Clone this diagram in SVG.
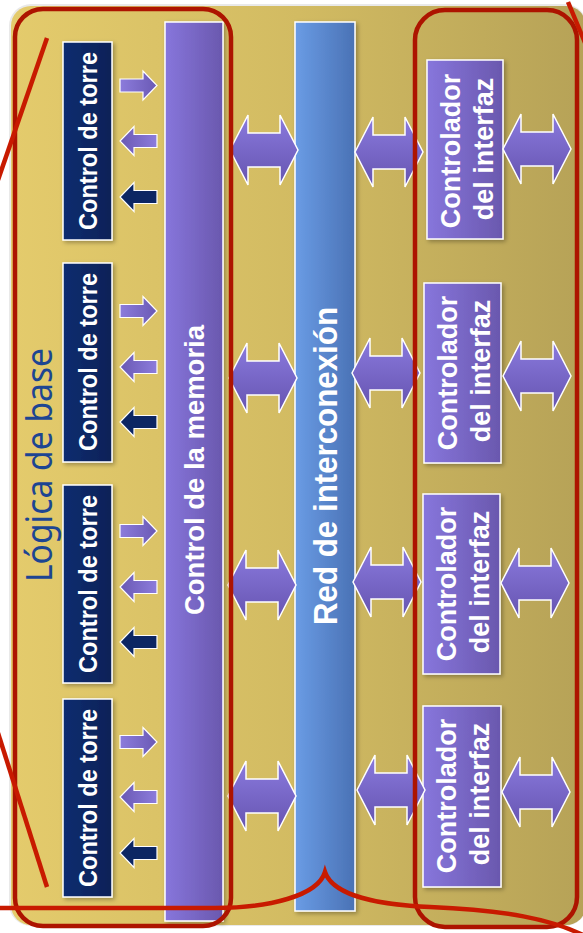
<svg xmlns="http://www.w3.org/2000/svg" width="583" height="933" viewBox="0 0 583 933">
<defs>
  <linearGradient id="bg" x1="0" y1="0" x2="1" y2="0">
    <stop offset="0" stop-color="#e4cb6c"/>
    <stop offset="0.5" stop-color="#d2bb62"/>
    <stop offset="1" stop-color="#b6a257"/>
  </linearGradient>
  <linearGradient id="navy" x1="0" y1="0" x2="1" y2="0">
    <stop offset="0" stop-color="#0f2d70"/>
    <stop offset="1" stop-color="#0a2157"/>
  </linearGradient>
  <linearGradient id="purp" x1="0" y1="0" x2="1" y2="0">
    <stop offset="0" stop-color="#8776dc"/>
    <stop offset="1" stop-color="#6a58ae"/>
  </linearGradient>
  <linearGradient id="blue" x1="0" y1="0" x2="1" y2="0">
    <stop offset="0" stop-color="#6a9ce5"/>
    <stop offset="1" stop-color="#4a72b5"/>
  </linearGradient>
  <linearGradient id="arrV" x1="0" y1="0" x2="0" y2="1">
    <stop offset="0" stop-color="#8a7ade"/>
    <stop offset="1" stop-color="#6654b0"/>
  </linearGradient>
  <linearGradient id="arrH" x1="0" y1="0" x2="1" y2="0">
    <stop offset="0" stop-color="#8c7cdc"/>
    <stop offset="1" stop-color="#6a59b4"/>
  </linearGradient>
  <filter id="sh" x="-20%" y="-20%" width="140%" height="140%">
    <feDropShadow dx="2" dy="2" stdDeviation="2" flood-color="#000" flood-opacity="0.3"/>
  </filter>
  <path id="sArr" d="M-18.5,-6.5 H4.5 V-14.5 L18.5,0 L4.5,14.5 V6.5 H-18.5 Z"/>
  <path id="bArr" d="M-34,0 L-16,-35 V-17 H16 V-35 L34,0 L16,35 V17 H-16 V35 Z"/>
</defs>
<style>
  .tower{fill:url(#navy);stroke:#fff;stroke-width:1.5;filter:url(#sh)}
  .iface{fill:url(#purp);stroke:#fff;stroke-width:1.5;filter:url(#sh)}
  .wt{fill:#fff;font-family:"Liberation Sans",Arial,sans-serif;font-weight:bold;text-anchor:middle}
  .sa{fill:url(#arrH);stroke:#fff;stroke-width:1.2}
  .sn{fill:#0c2663;stroke:#fff;stroke-width:1.2}
  .ba{fill:url(#arrV);stroke:#fff;stroke-width:1.5}
  .red{fill:none;stroke:#ad1400;stroke-width:4.5}
  .redl{fill:none;stroke:#c81a00;stroke-width:4.5}
</style>

<rect x="0" y="0" width="583" height="933" fill="#ffffff"/>
<g id="background">
  <rect x="9" y="4" width="578" height="922" rx="22" fill="#e9e9e9"/>
  <rect x="11" y="6" width="575" height="919" rx="20" fill="url(#bg)"/>
  <text transform="translate(52,465) rotate(-90)" text-anchor="middle" font-family="'Noto Sans','Liberation Sans',sans-serif" font-size="36" fill="#1d4592" textLength="234" lengthAdjust="spacingAndGlyphs">Lógica de base</text>
</g>

<g id="memoria">
  <rect x="165" y="22" width="58" height="899" fill="url(#purp)" stroke="#fff" stroke-width="1.5" filter="url(#sh)"/>
  <text class="wt" transform="translate(204,470) rotate(-90)" font-size="28.5" textLength="290" lengthAdjust="spacingAndGlyphs">Control de la memoria</text>
</g>
<g id="interconexion">
  <rect x="295" y="22" width="60" height="889" fill="url(#blue)" stroke="#fff" stroke-width="1.5" filter="url(#sh)"/>
  <text class="wt" transform="translate(337,466) rotate(-90)" font-size="33.5" textLength="318" lengthAdjust="spacingAndGlyphs">Red de interconexión</text>
</g>

<g id="torre1">
  <rect class="tower" x="63" y="42" width="49" height="198"/>
  <text class="wt" transform="translate(96.5,141) rotate(-90)" font-size="26.5" textLength="178" lengthAdjust="spacingAndGlyphs">Control de torre</text>
</g>
<g id="torre2">
  <rect class="tower" x="63" y="263" width="49" height="199"/>
  <text class="wt" transform="translate(96.5,362) rotate(-90)" font-size="26.5" textLength="178" lengthAdjust="spacingAndGlyphs">Control de torre</text>
</g>
<g id="torre3">
  <rect class="tower" x="63" y="485" width="49" height="198"/>
  <text class="wt" transform="translate(96.5,584) rotate(-90)" font-size="26.5" textLength="178" lengthAdjust="spacingAndGlyphs">Control de torre</text>
</g>
<g id="torre4">
  <rect class="tower" x="63" y="699" width="49" height="198"/>
  <text class="wt" transform="translate(96.5,798) rotate(-90)" font-size="26.5" textLength="178" lengthAdjust="spacingAndGlyphs">Control de torre</text>
</g>

<g id="interfaz1">
  <rect class="iface" x="427" y="60" width="76" height="179"/>
  <text class="wt" transform="translate(460,151) rotate(-90)" font-size="27">Controlador</text>
  <text class="wt" transform="translate(493,149) rotate(-90)" font-size="27">del interfaz</text>
</g>
<g id="interfaz2">
  <rect class="iface" x="424" y="283" width="77" height="180"/>
  <text class="wt" transform="translate(457,373) rotate(-90)" font-size="27">Controlador</text>
  <text class="wt" transform="translate(490,371) rotate(-90)" font-size="27">del interfaz</text>
</g>
<g id="interfaz3">
  <rect class="iface" x="423" y="494" width="77" height="180"/>
  <text class="wt" transform="translate(456,584) rotate(-90)" font-size="27">Controlador</text>
  <text class="wt" transform="translate(489,582) rotate(-90)" font-size="27">del interfaz</text>
</g>
<g id="interfaz4">
  <rect class="iface" x="423" y="706" width="78" height="181"/>
  <text class="wt" transform="translate(456,796) rotate(-90)" font-size="27">Controlador</text>
  <text class="wt" transform="translate(489,794) rotate(-90)" font-size="27">del interfaz</text>
</g>

<g id="connectors">
  <use href="#sArr" class="sa" transform="translate(138.5,85.5)"/>
  <use href="#sArr" class="sa" transform="translate(138.5,141) scale(-1,1)"/>
  <use href="#sArr" class="sn" transform="translate(138.5,197) scale(-1,1)"/>
  <use href="#sArr" class="sa" transform="translate(138.5,311)"/>
  <use href="#sArr" class="sa" transform="translate(138.5,367) scale(-1,1)"/>
  <use href="#sArr" class="sn" transform="translate(138.5,422) scale(-1,1)"/>
  <use href="#sArr" class="sa" transform="translate(138.5,531)"/>
  <use href="#sArr" class="sa" transform="translate(138.5,587) scale(-1,1)"/>
  <use href="#sArr" class="sn" transform="translate(138.5,642) scale(-1,1)"/>
  <use href="#sArr" class="sa" transform="translate(138.5,742)"/>
  <use href="#sArr" class="sa" transform="translate(138.5,797) scale(-1,1)"/>
  <use href="#sArr" class="sn" transform="translate(138.5,853) scale(-1,1)"/>

  <use href="#bArr" class="ba" transform="translate(264,150)"/>
  <use href="#bArr" class="ba" transform="translate(263,378)"/>
  <use href="#bArr" class="ba" transform="translate(262,585)"/>
  <use href="#bArr" class="ba" transform="translate(262,796)"/>

  <use href="#bArr" class="ba" transform="translate(389,152)"/>
  <use href="#bArr" class="ba" transform="translate(386,373)"/>
  <use href="#bArr" class="ba" transform="translate(387,582)"/>
  <use href="#bArr" class="ba" transform="translate(391,790)"/>

  <use href="#bArr" class="ba" transform="translate(537,149)"/>
  <use href="#bArr" class="ba" transform="translate(537,376)"/>
  <use href="#bArr" class="ba" transform="translate(535,583)"/>
  <use href="#bArr" class="ba" transform="translate(536,792)"/>
</g>

<g id="annotations">
  <rect class="red" x="15" y="9" width="216" height="917" rx="28"/>
  <rect class="red" x="415" y="10" width="162" height="917" rx="30"/>
  <path class="redl" d="M47,38 L-2,180"/>
  <path class="redl" d="M-2,733 L47,887"/>
  <path class="redl" d="M568,2 L588,50"/>
  <path class="redl" d="M-2,908 L215,908 C268,908 318,896 325,872 C333,896 380,905 430,907 C500,910 555,918 592,940"/>
</g>
</svg>
